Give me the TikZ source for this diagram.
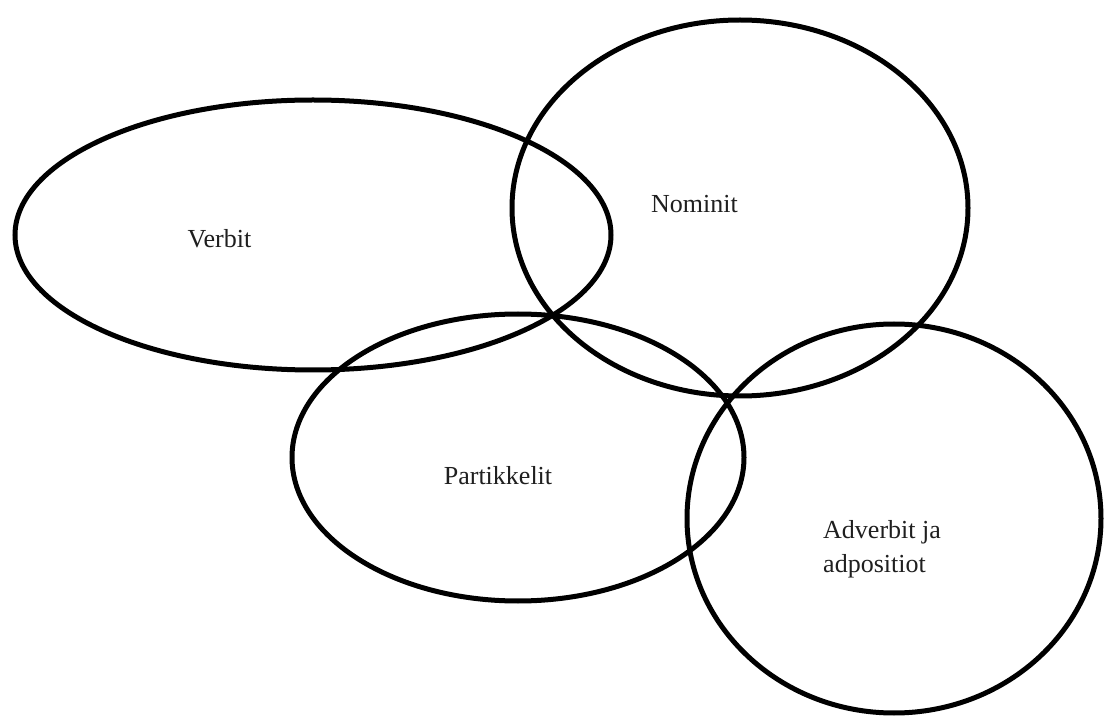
\documentclass[tikz,border=0pt]{standalone}
\usepackage{fontspec}
\setmainfont{Liberation Serif}
\usetikzlibrary{shapes.geometric}
\begin{document}
\begin{tikzpicture}[x=1pt,y=1pt,
  set/.style={ellipse, draw=black, line width=5pt, inner sep=0pt},
  lbl/.style={font=\fontsize{26}{34}\selectfont, text=black!88, inner sep=0pt}]
\useasboundingbox (0,0) rectangle (1104,716);
\fill[white] (0,0) rectangle (1104,716);
\node[set, minimum width=596pt, minimum height=270pt] (verbit) at (313,481) {};
\node[set, minimum width=456pt, minimum height=376pt] (nominit) at (740,508) {};
\node[set, minimum width=452pt, minimum height=287pt] (partikkelit) at (518,258.5) {};
\node[set, minimum width=414pt, minimum height=389pt] (adverbit) at (894,197.5) {};
\node[lbl, anchor=base] (tv) at (219.5,468) {Verbit};
\node[lbl, anchor=base] (tn) at (694.5,503) {Nominit};
\node[lbl, anchor=base] (tp) at (498,231) {Partikkelit};
\node[lbl, anchor=base west] (ta1) at (823,178) {Adverbit ja};
\node[lbl, anchor=base west] (ta2) at (823,144) {adpositiot};
\end{tikzpicture}
\end{document}
